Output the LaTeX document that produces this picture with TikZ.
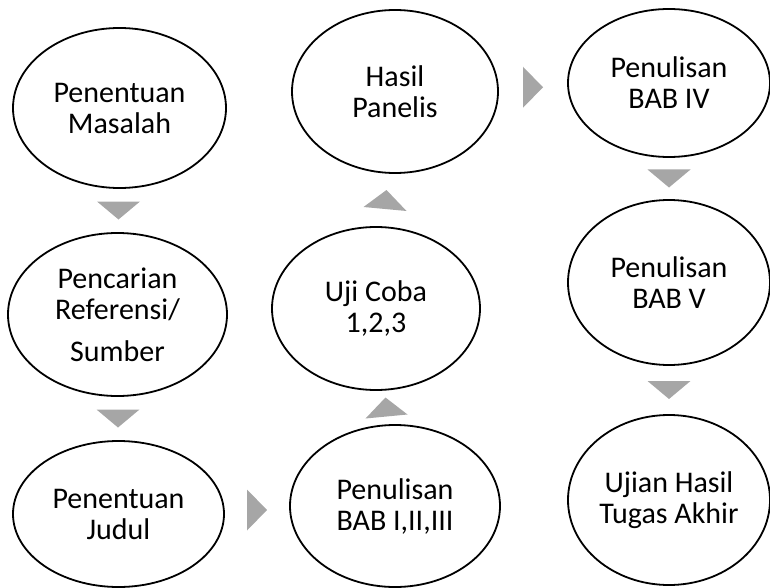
\documentclass[tikz,border=0pt]{standalone}
\usepackage{fontspec}
\setmainfont{Carlito}
\usetikzlibrary{shapes.geometric,calc}
\definecolor{tricol}{RGB}{166,166,166}
\begin{document}
\begin{tikzpicture}[x=1pt,y=-1pt,
  ell/.style={draw=black,line width=1.8pt,ellipse,inner sep=0pt,fill=white},
  lbl/.style={align=center,font=\fontsize{30}{31}\selectfont,inner sep=0pt},
  tri/.style={fill=tricol,draw=none}]
\useasboundingbox (0,0) rectangle (770,588);
% ellipses
\node[ell,minimum width=213pt,minimum height=160pt] (e1) at (119.5,108) {};
\node[ell,minimum width=219pt,minimum height=163pt] (e2) at (117.5,314.5) {};
\node[ell,minimum width=211pt,minimum height=146pt] (e3) at (118.5,514) {};
\node[ell,minimum width=210pt,minimum height=162pt] (e4) at (395,506) {};
\node[ell,minimum width=208pt,minimum height=163pt] (e5) at (376,308.5) {};
\node[ell,minimum width=206pt,minimum height=163pt] (e6) at (395,91.5) {};
\node[ell,minimum width=202pt,minimum height=148pt] (e7) at (669,83) {};
\node[ell,minimum width=202pt,minimum height=165pt] (e8) at (669,282.5) {};
\node[ell,minimum width=202pt,minimum height=170pt] (e9) at (669,500) {};
% labels
\node[lbl] (t1) at (e1) {Penentuan\\Masalah};
\node[lbl] (t2) at (e2) {Pencarian\\Referensi/\\[11pt]Sumber};
\node[lbl] (t3) at (e3) {Penentuan\\Judul};
\node[lbl] (t4) at (e4) {Penulisan\\BAB I,II,III};
\node[lbl] (t5) at (e5) {Uji Coba\\1,2,3};
\node[lbl] (t6) at (e6) {Hasil\\Panelis};
\node[lbl] (t7) at (e7) {Penulisan\\BAB IV};
\node[lbl] (t8) at (e8) {Penulisan\\BAB V};
\node[lbl] (t9) at (e9) {Ujian Hasil\\Tugas Akhir};
% connector midpoints
\coordinate (m12) at ($(e1.south)!0.5!(e2.north)$);
\coordinate (m23) at ($(e2.south)!0.5!(e3.north)$);
\coordinate (m34) at ($(e3.east)!0.5!(e4.west)$);
\coordinate (m45) at ($(e4.north)!0.5!(e5.south)$);
\coordinate (m56) at ($(e5.north)!0.5!(e6.south)$);
\coordinate (m67) at ($(e6.east)!0.5!(e7.west)$);
\coordinate (m78) at ($(e7.south)!0.5!(e8.north)$);
\coordinate (m89) at ($(e8.south)!0.5!(e9.north)$);
% down triangles
\foreach \m in {m12,m23,m78,m89}{
  \fill[tri] ($(\m)+(-21.5,-9)$) -- ($(\m)+(21.5,-9)$) -- ($(\m)+(0,9)$) -- cycle;
}
% right triangles
\foreach \m in {m34,m67}{
  \fill[tri] ($(\m)+(-10,-20.5)$) -- ($(\m)+(10,0)$) -- ($(\m)+(-10,20.5)$) -- cycle;
}
% up triangles
\fill[tri] ($(m45)+(-20,11)$) -- ($(m45)+(0,-10)$) -- ($(m45)+(22,7)$) -- cycle;
\fill[tri] ($(m56)+(-22,7)$) -- ($(m56)+(1,-10)$) -- ($(m56)+(21,11)$) -- cycle;
\end{tikzpicture}
\end{document}
